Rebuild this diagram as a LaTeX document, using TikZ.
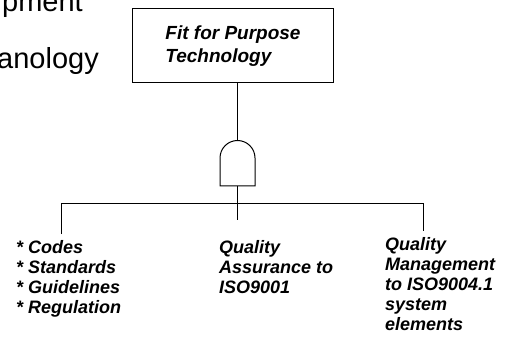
\documentclass[tikz,border=0pt]{standalone}
\usepackage{fontspec}
\setmainfont{Liberation Sans}
\begin{document}
\begin{tikzpicture}[x=1pt,y=-1pt]
\tikzset{
  wire/.style={line width=1pt, black},
  goalbox/.style={draw, line width=1pt, minimum width=201pt, minimum height=74pt,
    align=left, inner sep=0pt, font=\bfseries\itshape\fontsize{19}{23}\selectfont},
  leaf/.style={anchor=north west, inner sep=0pt, align=left,
    font=\bfseries\itshape\fontsize{18}{20}\selectfont},
  bigtext/.style={anchor=base west, inner sep=0pt, font=\fontsize{29}{34}\selectfont},
}
\useasboundingbox (0,0) rectangle (516,347);
\clip (0,0) rectangle (516,347);

% headings cut by the page edge
\node[bigtext] (dev) at (2,12) {pment};
\node[bigtext] (tech) at (-3,69) {anology};

% top event
\node[goalbox] (goal) at (233,46) {Fit for Purpose\\Technology};

% AND gate (y runs downwards here, so the arc sweeps 180 -> 360)
\coordinate (gtop) at (237.5,140.5);
\coordinate (gbot) at (237.5,186);
\draw[wire] (220,186) -- (220,158) arc[start angle=180, end angle=360, radius=17.5]
  -- (255,186) -- cycle;
\draw[wire] (goal.south -| gtop) -- (gtop);

% distribution bar
\coordinate (bl) at (61,204);
\coordinate (br) at (423,204);
\coordinate (lend) at (61,234);
\coordinate (mend) at (237.5,220);
\coordinate (rend) at (423,231);
\draw[wire] (lend) -- (bl) -- (br) -- (rend);
\draw[wire] (gbot) -- (mend);

% basic events
\node[leaf] (codes) at (16,240) {* Codes\\* Standards\\* Guidelines\\* Regulation};
\node[leaf] (qa) at (219,240) {Quality\\Assurance to\\ISO9001};
\node[leaf] (qm) at (385,237) {Quality\\Management\\to ISO9004.1\\system\\elements};
\end{tikzpicture}
\end{document}
